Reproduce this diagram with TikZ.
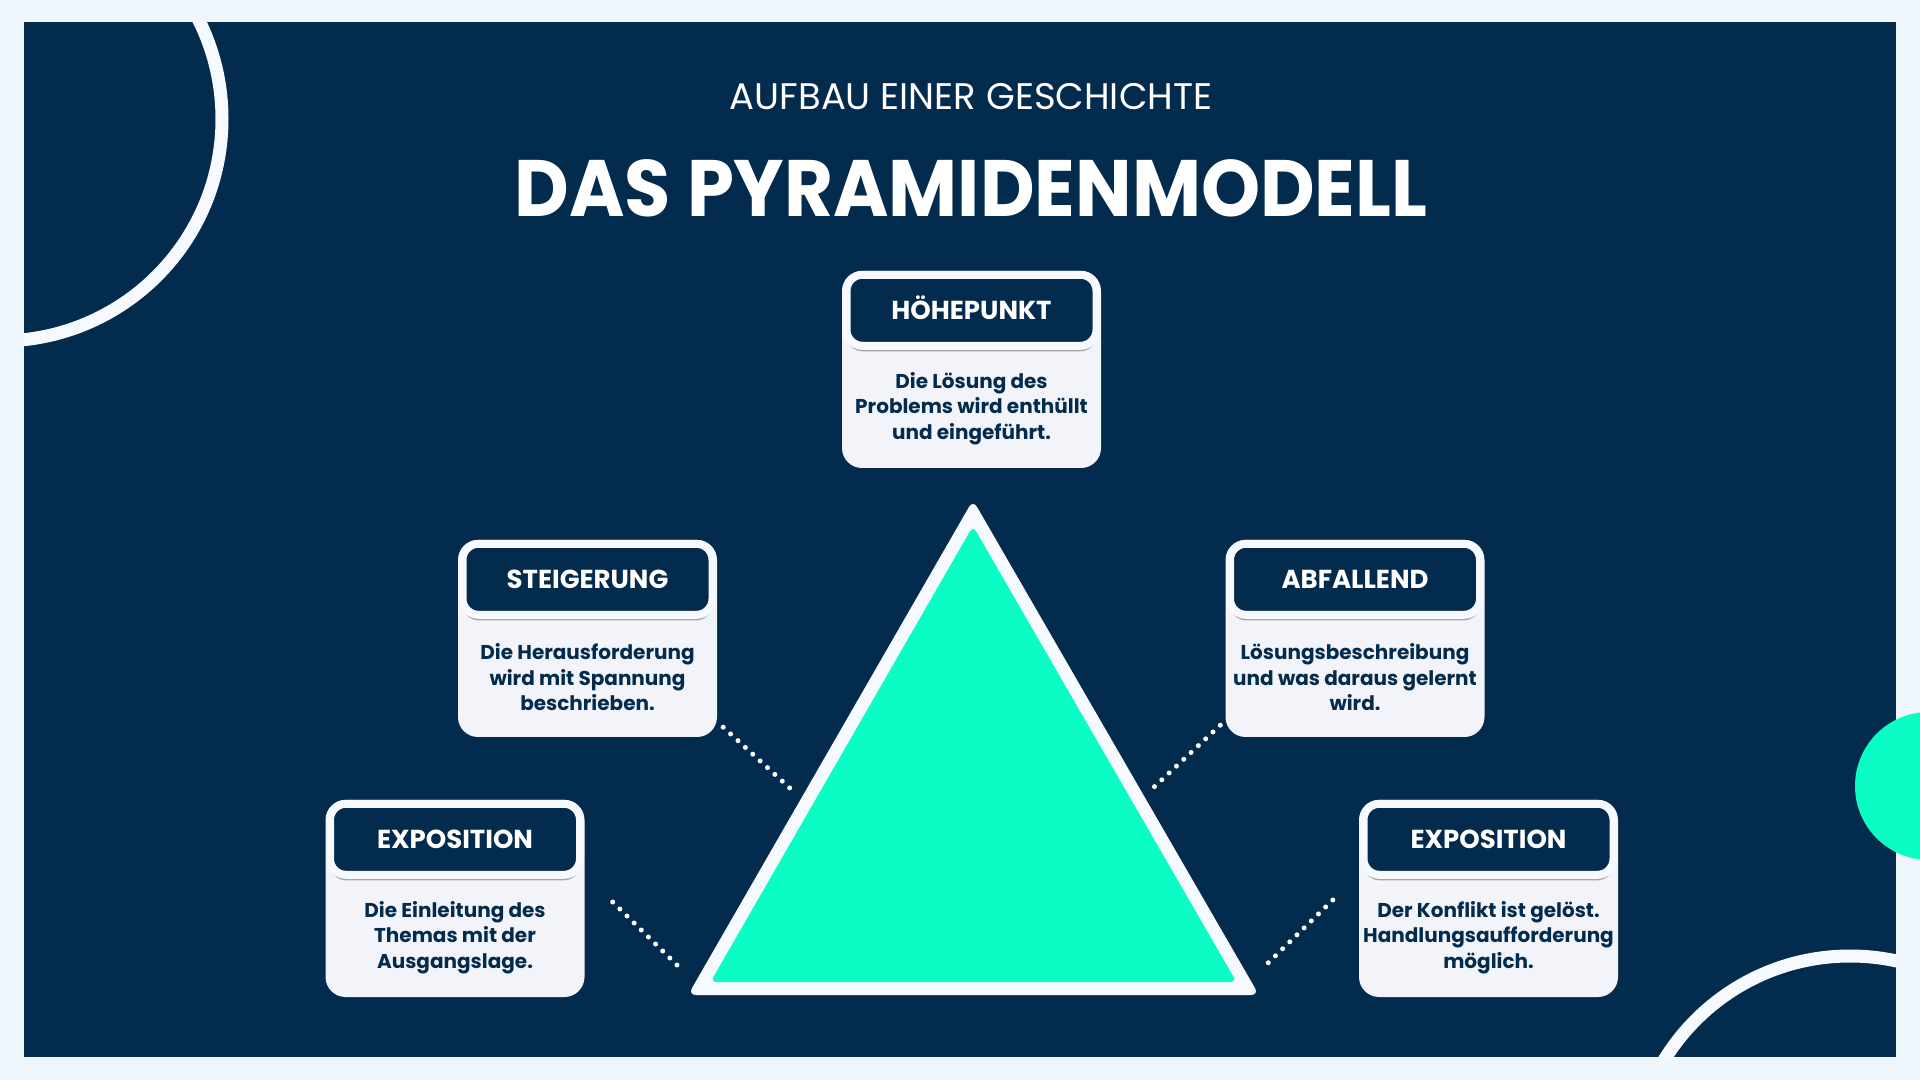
\documentclass[tikz,border=0pt]{standalone}
\usepackage{fontspec}
\setmainfont{Poppins}
\usepackage{tikz}
\usetikzlibrary{positioning,shadows}
\definecolor{navy}{HTML}{032B4D}
\definecolor{mint}{HTML}{0AFDC4}
\definecolor{pagebg}{HTML}{EFF6FC}
\definecolor{boxgrey}{HTML}{F2F4F9}
\definecolor{boxwhite}{HTML}{F6F9FD}
\tikzset{
	stationbox/.style={fill=boxgrey, rounded corners=20, minimum width=259, minimum height=197, inner sep=0},
	stationhead/.style={fill=navy, draw=boxwhite, line width=8, rounded corners=16, minimum width=250, minimum height=71, inner sep=0,
		text=white, text height=18, text depth=0, font=\bfseries\fontsize{26}{26}\selectfont,
		drop shadow={shadow xshift=0pt, shadow yshift=-5.5pt, fill=black!35, opacity=1}},
	stationtext/.style={text=navy, align=center, inner sep=0, font=\bfseries\fontsize{20}{25.5}\selectfont},
	ring/.style={boxwhite, line width=13},
	dotline/.style={white, line width=5, line cap=round, dash pattern=on 0pt off 10pt},
}

\begin{document}
\begin{tikzpicture}[x=1pt,y=1pt]
			\useasboundingbox (0,0) rectangle (1920,1080);
			\fill[pagebg] (0,0) rectangle (1920,1080);
			\fill[navy] (24,23) rectangle (1896,1058);
			\begin{scope}
			\clip (24,23) rectangle (1896,1058);
			\draw[ring] (0,961) circle (222);
			\draw[ring] (1850,-94) circle (218);
			\end{scope}
			\fill[mint] (1929,294) circle (74);
			\draw (971,970) node[anchor=base, text=white, font=\fontsize{37}{37}\selectfont] (subtitle) {AUFBAU EINER GESCHICHTE};
			\draw (971,863) node[anchor=base, text=white, xscale=0.94, font=\bfseries\fontsize{80}{80}\selectfont] (title) {DAS PYRAMIDENMODELL};
			\coordinate (apex) at (973,580);
			\coordinate (basel) at (688,85);
			\coordinate (baser) at (1259,85);
			\fill[boxwhite, rounded corners=8] (basel) -- (apex) -- (baser) -- cycle;
			\fill[mint, rounded corners=6] (710.5,98) -- (973,554) -- (1236.5,98) -- cycle;
			\node[stationbox] (hoehe) at (971.5,710.5) {};
			\node[stationbox] (steig) at (587.5,441.5) {};
			\node[stationbox] (abf) at (1355,441.5) {};
			\node[stationbox] (expl) at (455,181.5) {};
			\node[stationbox] (expr) at (1488.5,181.5) {};
			\node[stationhead, below=0pt of hoehe.north] (hoehehead) {HÖHEPUNKT};
			\node[stationhead, below=0pt of steig.north] (steighead) {STEIGERUNG};
			\node[stationhead, below=0pt of abf.north] (abfhead) {ABFALLEND};
			\node[stationhead, below=0pt of expl.north] (explhead) {EXPOSITION};
			\node[stationhead, below=0pt of expr.north] (exprhead) {EXPOSITION};
			\node[stationtext] at ([yshift=-39]hoehe.center) {Die Lösung des\\Problems wird enthüllt\\und eingeführt.};
			\node[stationtext] at ([yshift=-39]steig.center) {Die Herausforderung\\wird mit Spannung\\beschrieben.};
			\node[stationtext] at ([yshift=-39]abf.center) {Lösungsbeschreibung\\und was daraus gelernt\\wird.};
			\node[stationtext] at ([yshift=-39]expl.center) {Die Einleitung des\\Themas mit der\\Ausgangslage.};
			\node[stationtext] at ([yshift=-39]expr.center) {Der Konflikt ist gelöst.\\Handlungsaufforderung\\möglich.};
			\coordinate (dotsteig) at (792,290);
			\coordinate (dotexpl) at (679,113);
			\coordinate (dotabf) at (1153,292);
			\coordinate (dotexpr) at (1268,117);
			\draw[dotline] ([shift={(6,10)}]steig.south east) -- (dotsteig);
			\draw[dotline] ([shift={(28,-3.5)}]expl.east) -- (dotexpl);
			\draw[dotline] ([shift={(-5,12)}]abf.south west) -- (dotabf);
			\draw[dotline] ([shift={(-26,-1.5)}]expr.west) -- (dotexpr);
\end{tikzpicture}
\end{document}
